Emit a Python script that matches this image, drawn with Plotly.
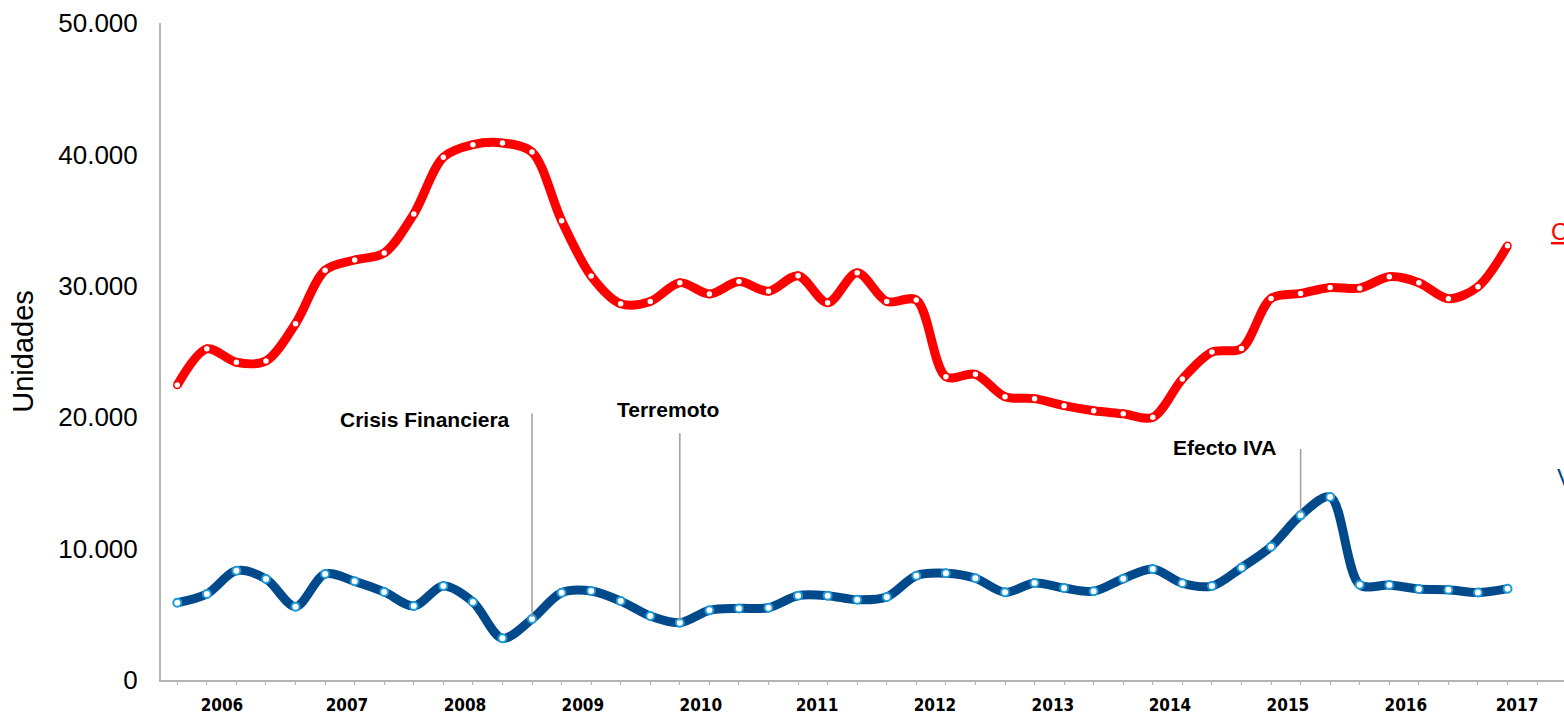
import plotly.graph_objects as go

quarters = list(range(46))
red_values = [22450, 25200, 24180, 24280, 27120, 31180, 31960, 32500, 35460, 39780,
              40740, 40870, 40180, 34960, 30750, 28640, 28810, 30240, 29380, 30320,
              29580, 30770, 28710, 31000, 28810, 28920, 23080, 23260, 21560, 21410,
              20880, 20490, 20260, 19990, 22910, 24960, 25220, 29040, 29420, 29870,
              29820, 30690, 30240, 29020, 29930, 33050]
blue_values = [5880, 6540, 8320, 7690, 5580, 8070, 7510, 6700, 5630, 7150,
               5940, 3170, 4640, 6640, 6770, 6010, 4870, 4360, 5300, 5450,
               5500, 6420, 6420, 6110, 6320, 7940, 8120, 7740, 6670, 7380,
               7000, 6750, 7710, 8450, 7360, 7150, 8550, 10150, 12530, 13930,
               7250, 7230, 6930, 6870, 6650, 6950]
year_labels = ["2006", "2007", "2008", "2009", "2010", "2011",
               "2012", "2013", "2014", "2015", "2016", "2017"]
year_label_pos = [1.51, 5.74, 9.73, 13.72, 17.71, 21.64,
                  25.63, 29.62, 33.58, 37.57, 41.56, 45.32]
y_ticks = [0, 10000, 20000, 30000, 40000, 50000]
y_tick_text = ["0", "10.000", "20.000", "30.000", "40.000", "50.000"]

events = ["Crisis Financiera", "Terremoto", "Efecto IVA"]
event_idx = [12, 17, 38]
event_line_top = [20400, 18900, 17700]
event_text_x = [8.38, 16.6, 35.44]
event_text_y = [19790, 20620, 17730]

RED = "#FF0000"
BLUE = "#004A8C"
LIGHTBLUE = "#1E9BD7"
AXIS = "#B4B4B4"

fig = go.Figure()
fig.add_trace(go.Scatter(
    x=quarters, y=red_values, mode="lines+markers",
    line=dict(color=RED, width=9, shape="spline", smoothing=0.9),
    marker=dict(size=7, color="white", line=dict(color=RED, width=1.5)),
    showlegend=False, hoverinfo="skip"))
fig.add_trace(go.Scatter(
    x=quarters, y=blue_values, mode="lines+markers",
    line=dict(color=BLUE, width=9, shape="spline", smoothing=0.9),
    marker=dict(size=8, color="white", line=dict(color=LIGHTBLUE, width=2)),
    showlegend=False, hoverinfo="skip"))

annotations = []
for name, idx, top, tx, ty in zip(events, event_idx, event_line_top, event_text_x, event_text_y):
    annotations.append(dict(
        x=idx, y=blue_values[idx], xref="x", yref="y",
        ax=idx, ay=top, axref="x", ayref="y",
        text="", showarrow=True, arrowhead=0, arrowwidth=1.5,
        arrowcolor="#A39C98", standoff=2))
    annotations.append(dict(
        x=tx, y=ty, xref="x", yref="y", text="<b>" + name + "</b>",
        showarrow=False, xanchor="center", yanchor="middle",
        font=dict(family="Liberation Sans, Arial, sans-serif", size=21, color="#000000")))

annotations.append(dict(
    x=0.9895, y=34100, xref="paper", yref="y", text="<u>Camionetas</u>",
    showarrow=False, xanchor="left", yanchor="middle",
    font=dict(family="Liberation Sans, Arial, sans-serif", size=24, color=RED)))
annotations.append(dict(
    x=0.9935, y=15400, xref="paper", yref="y", text="Vehículos",
    showarrow=False, xanchor="left", yanchor="middle",
    font=dict(family="Liberation Sans, Arial, sans-serif", size=24, color=BLUE)))

fig.update_layout(
    width=1564, height=716,
    margin=dict(l=161, r=0, t=23, b=36),
    paper_bgcolor="white", plot_bgcolor="white",
    annotations=annotations,
    xaxis=dict(
        range=[-0.551, 46.91], showgrid=False, zeroline=False, automargin=False,
        showline=True, linecolor=AXIS, linewidth=2,
        tickmode="array", tickvals=year_label_pos, ticktext=year_labels,
        ticks="", ticklabelstandoff=9,
        tickfont=dict(family="Liberation Sans Narrow, DejaVu Sans Condensed, Arial Narrow, sans-serif",
                      size=17, color="#000000", weight="bold"),
        minor=dict(tickmode="linear", tick0=0, dtick=1, ticks="outside",
                   ticklen=3, tickwidth=1, tickcolor=AXIS, showgrid=False),
    ),
    yaxis=dict(
        range=[0, 50000], showgrid=False, zeroline=False, automargin=False,
        showline=True, linecolor=AXIS, linewidth=2,
        tickmode="array", tickvals=y_ticks, ticktext=y_tick_text,
        ticks="", ticklabelstandoff=16,
        tickfont=dict(family="Liberation Sans, Arial, sans-serif", size=26, color="#000000"),
        title=dict(text="Unidades", standoff=16,
                   font=dict(family="Liberation Sans, Arial, sans-serif", size=29, color="#000000")),
    ),
)

fig.write_html(
    "out.html",
    config={"displayModeBar": False},
    post_script="document.body.style.margin='0';document.body.style.overflow='hidden';",
)
